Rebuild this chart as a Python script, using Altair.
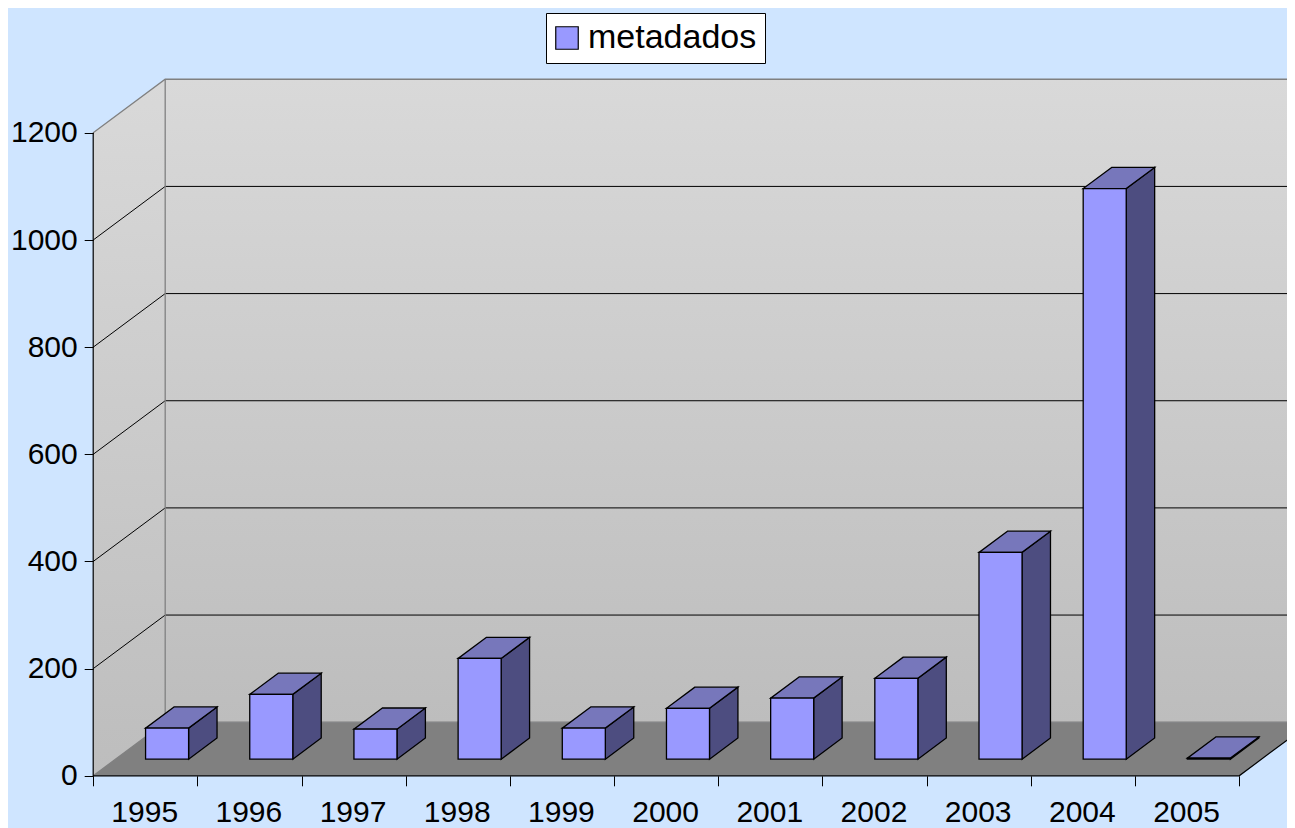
import altair as alt
import pandas as pd

years = [1995, 1996, 1997, 1998, 1999, 2000, 2001, 2002, 2003, 2004, 2005]
values = [58, 121, 56, 188, 58, 95, 114, 151, 386, 1065, 2]
series = "metadados"
y_ticks = [0, 200, 400, 600, 800, 1000, 1200]

BG = "#CFE5FF"
FRONT, TOP, SIDE = "#9999FF", "#7777BB", "#4D4D80"
FONT = "Liberation Sans"

# oblique projection, expressed in scale units: depth d in 0..1
DX, DV = 0.691, 100.0
D1, D2 = 0.31, 0.705
GAP = 0.5 - 0.2065
N = len(years)
VMAX = y_ticks[-1]

W, H = 1279, 820
PX_BAND = 104.18
PX_V = 0.5358
x0_px, y0_px = 85.2, 767.8
x_scale = alt.Scale(domain=[-x0_px / PX_BAND, (W - x0_px) / PX_BAND], range=[0, W], nice=False, zero=False)
y_scale = alt.Scale(domain=[(y0_px - H) / PX_V, y0_px / PX_V], range=[H, 0], nice=False, zero=False)

label_expr = "datum.value < %d ? %s[datum.value] : ''" % (N, str([str(y) for y in years]))
X = alt.X("x:Q", scale=x_scale, title=None)
Y = alt.Y("y:Q", scale=y_scale, title=None)

def gradient(top, bottom):
    return alt.Gradient(gradient="linear", x1=0, x2=0, y1=0, y2=1,
                        stops=[alt.GradientStop(color=top, offset=0), alt.GradientStop(color=bottom, offset=1)])

def vface(rows, **kw):
    return alt.Chart(pd.DataFrame(rows)).mark_area(orient="vertical", **kw).encode(
        x=X, y=Y, y2="y2:Q", detail="k:N")

def hface(rows, **kw):
    return alt.Chart(pd.DataFrame(rows)).mark_area(orient="horizontal", **kw).encode(
        y=Y, x=X, x2="x2:Q", detail="k:N")

def polyline(rows, color, width=1):
    return alt.Chart(pd.DataFrame(rows)).mark_line(color=color, strokeWidth=width).encode(x=X, y=Y, detail="k:N")

# walls and floor
left_wall = vface([
    dict(k=0, x=0, y=VMAX, y2=0),
    dict(k=0, x=DX, y=VMAX + DV, y2=DV),
], color=gradient("#D9D9D9", "#BDBDBD"))
back_wall = vface([
    dict(k=0, x=DX, y=VMAX + DV, y2=DV),
    dict(k=0, x=N + DX, y=VMAX + DV, y2=DV),
], color=gradient("#D9D9D9", "#BDBDBD"))
floor = hface([
    dict(k=0, y=0, x=0, x2=N),
    dict(k=0, y=DV, x=DX, x2=N + DX),
], color="#808080")

grid_rows = []
for v in y_ticks[1:-1]:
    grid_rows += [dict(k=v, x=0, y=v), dict(k=v, x=DX, y=v + DV), dict(k=v, x=N + DX, y=v + DV)]
grid = polyline(grid_rows, "#000000")
edges = polyline([
    dict(k=1, x=0, y=VMAX), dict(k=1, x=DX, y=VMAX + DV), dict(k=1, x=N + DX, y=VMAX + DV),
    dict(k=2, x=DX, y=VMAX + DV), dict(k=2, x=DX, y=DV), dict(k=2, x=N + DX, y=DV),
    dict(k=3, x=0, y=0), dict(k=3, x=DX, y=DV),
], "#808080", 1.3)
outline = polyline([
    dict(k=1, x=0, y=VMAX), dict(k=1, x=0, y=0), dict(k=1, x=N, y=0), dict(k=1, x=N + DX, y=DV),
], "#000000", 1.2)

# bars
fronts, sides, tops = [], [], []
for i, (yr, v) in enumerate(zip(years, values)):
    xl = i + GAP + D1 * DX - 0.005
    xr = i + 1 - GAP + D1 * DX - 0.005
    b, t = D1 * DV, v + D1 * DV
    dx, dv = (D2 - D1) * DX, (D2 - D1) * DV
    fronts.append(dict(series=series, x=xl, x2=xr, y=t, y2=b))
    sides += [dict(k=i, x=xr, y=t, y2=b), dict(k=i, x=xr + dx, y=t + dv, y2=b + dv)]
    tops += [dict(k=i, y=t, x=xl, x2=xr), dict(k=i, y=t + dv, x=xl + dx, x2=xr + dx)]

side_faces = vface(sides, color=SIDE, stroke="#000000", strokeWidth=1.3)
top_faces = hface(tops, color=TOP, stroke="#000000", strokeWidth=1.3)
front_faces = alt.Chart(pd.DataFrame(fronts)).mark_rect(stroke="#000000", strokeWidth=1.3, opacity=1).encode(
    x=X, x2="x2:Q", y=Y, y2="y2:Q",
    color=alt.Color("series:N", scale=alt.Scale(domain=[series], range=[FRONT]),
                    legend=alt.Legend(
                        title=None, orient="none", legendX=538, legendY=5,
                        fillColor="#FFFFFF", strokeColor="#000000", padding=8,
                        symbolType="square", symbolSize=506, symbolStrokeColor="#000000",
                        symbolStrokeWidth=1.2, symbolOpacity=1, symbolFillColor=FRONT,
                        symbolOffset=-4, labelLimit=400,
                        labelFont=FONT, labelFontSize=34, labelColor="#000000", labelOffset=4)),
)

# axes
axes = alt.Chart(pd.DataFrame({"x": [0], "y": [0]})).mark_point(opacity=0).encode(
    x=alt.X("x:Q", scale=x_scale, axis=alt.Axis(
        values=list(range(N + 1)), labelExpr=label_expr, title=None, grid=False, domain=False,
        offset=-(H - y0_px), tickSize=10, tickColor="#000000", labelOffset=51, labelPadding=12,
        labelFont=FONT, labelFontSize=30, labelColor="#000000", labelFlush=False, labelOverlap=False,
        zindex=1)),
    y=alt.Y("y:Q", scale=y_scale, axis=alt.Axis(
        values=y_ticks, format="d", title=None, grid=False, domain=False, offset=-x0_px, tickSize=9,
        tickColor="#000000", labelPadding=7, labelFont=FONT, labelFontSize=30, labelColor="#000000",
        labelOverlap=False, zindex=1)),
)

chart = alt.layer(axes, left_wall, back_wall, floor, grid, edges, outline, side_faces, top_faces, front_faces).properties(
    width=W, height=H, background=BG, padding=0, autosize=alt.AutoSizeParams(type="none"),
).configure_view(stroke=None)

chart.save("out.html", embed_options={"renderer": "svg", "actions": False})
